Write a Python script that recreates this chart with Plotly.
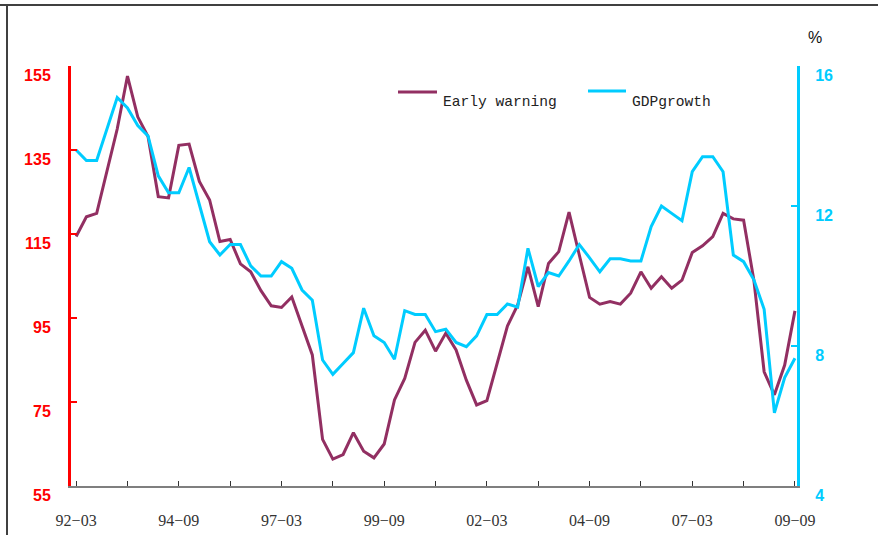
import plotly.graph_objects as go

# Quarterly periods 1992Q1 (92-03) .. 2009Q3 (09-09)
quarters = [f"{y % 100:02d}-{m:02d}" for y in range(1992, 2010) for m in (3, 6, 9, 12)][:71]

early_warning = [114.4, 119.1, 119.9, 130.0, 140.0, 152.6, 142.9, 138.2, 123.9, 123.6,
                 136.1, 136.4, 127.5, 123.1, 113.2, 113.7, 107.9, 106.0, 101.5, 97.9,
                 97.5, 100.0, 93.3, 86.2, 66.1, 61.4, 62.5, 67.7, 63.3, 61.7,
                 65.0, 75.5, 80.6, 89.2, 92.1, 87.1, 91.4, 87.4, 80.2, 74.3,
                 75.3, 84.2, 93.1, 98.1, 107.2, 97.7, 108.0, 110.8, 120.2, 110.0,
                 99.9, 98.3, 98.9, 98.3, 100.9, 106.0, 102.1, 104.8, 102.1, 104.0,
                 110.6, 112.2, 114.4, 119.9, 118.6, 118.3, 104.0, 82.2, 76.7, 83.8,
                 96.7]

gdp_growth = [13.6, 13.3, 13.3, 14.2, 15.1, 14.8, 14.3, 14.0, 12.86, 12.38,
              12.38, 13.1, 12.0, 10.98, 10.6, 10.9, 10.9, 10.29, 10.0, 10.0,
              10.41, 10.22, 9.6, 9.31, 7.6, 7.19, 7.5, 7.81, 9.08, 8.29,
              8.1, 7.62, 9.01, 8.9, 8.9, 8.41, 8.48, 8.1, 7.98, 8.29,
              8.9, 8.9, 9.2, 9.11, 10.79, 9.7, 10.1, 10.0, 10.43, 10.9,
              10.52, 10.12, 10.49, 10.49, 10.43, 10.43, 11.41, 12.0, 11.79, 11.58,
              12.98, 13.41, 13.41, 12.98, 10.6, 10.41, 9.89, 9.05, 6.09, 7.1,
              7.65]

tick_labels = ["92\u221203", "94\u221209", "97\u221203", "99\u221209",
               "02\u221203", "04\u221209", "07\u221203", "09\u221209"]
tick_periods = ["92-03", "94-09", "97-03", "99-09", "02-03", "04-09", "07-03", "09-09"]

left_ticks = [55, 75, 95, 115, 135, 155]
right_ticks = [4, 8, 12, 16]

EW_COLOR = "#922F62"
GDP_COLOR = "#00CCFF"

x_idx = list(range(len(quarters)))
tick_pos = [quarters.index(p) for p in tick_periods]

fig = go.Figure()
fig.add_trace(go.Scatter(x=x_idx, y=early_warning, mode="lines", name="Early warning",
                         line=dict(color=EW_COLOR, width=3), yaxis="y", showlegend=False))
fig.add_trace(go.Scatter(x=x_idx, y=gdp_growth, mode="lines", name="GDPgrowth",
                         line=dict(color=GDP_COLOR, width=3), yaxis="y2", showlegend=False))

W, H = 878, 535
L, R, T, B = 71, 797, 66, 486
pw, ph = R - L, B - T


def px(xp):
    return (xp - L) / pw


def py(yp):
    return (B - yp) / ph


fig.update_layout(
    width=W, height=H,
    margin=dict(l=L, r=W - R, t=T, b=H - B, pad=0, autoexpand=False),
    paper_bgcolor="white", plot_bgcolor="white",
    xaxis=dict(range=[-0.5, 70.2], showgrid=False, zeroline=False, automargin=False,
               showline=True, linecolor="#7f7f7f", linewidth=2,
               tickmode="array", tickvals=tick_pos, ticktext=tick_labels,
               ticks="inside", ticklen=5, tickwidth=1, tickcolor="#333333",
               minor=dict(tickvals=[v + 5 for v in tick_pos[:-1]], ticks="inside",
                          ticklen=5, tickwidth=1, tickcolor="#333333"),
               tickfont=dict(family="Liberation Serif", size=16, color="#333333"),
               ticklabelstandoff=19),
    yaxis=dict(range=[55, 155], tickmode="array", tickvals=left_ticks,
               ticktext=[f"<b>{v}</b>" for v in left_ticks], automargin=False,
               showgrid=False, zeroline=False, showline=True, linecolor="#FF0000", linewidth=3,
               ticks="inside", ticklen=6, tickwidth=2, tickcolor="#FF0000",
               tickfont=dict(family="Liberation Sans", size=16, color="#FF0000"),
               ticklabelshift=9, ticklabelstandoff=14),
    yaxis2=dict(range=[4, 16], tickmode="array", tickvals=right_ticks,
                ticktext=[f"<b>{v}</b>" for v in right_ticks], automargin=False,
                overlaying="y", side="right",
                showgrid=False, zeroline=False, showline=True, linecolor=GDP_COLOR, linewidth=3,
                ticks="inside", ticklen=6, tickwidth=2, tickcolor=GDP_COLOR,
                tickfont=dict(family="Liberation Sans", size=16, color=GDP_COLOR),
                ticklabelshift=9, ticklabelstandoff=12),
)

# frame lines
fig.add_shape(type="line", xref="paper", yref="paper", x0=px(0), x1=px(W), y0=py(5), y1=py(5),
              line=dict(color="#404040", width=2))
fig.add_shape(type="line", xref="paper", yref="paper", x0=px(7), x1=px(7), y0=py(5), y1=py(H),
              line=dict(color="#404040", width=2))

# legend
fig.add_shape(type="line", xref="paper", yref="paper", x0=px(398), x1=px(437), y0=py(92), y1=py(92),
              line=dict(color=EW_COLOR, width=3))
fig.add_annotation(xref="paper", yref="paper", x=px(441), y=py(102), text="Early warning",
                   showarrow=False, xanchor="left", yanchor="middle",
                   font=dict(family="Liberation Mono", size=14.6, color="#222222"))
fig.add_shape(type="line", xref="paper", yref="paper", x0=px(588), x1=px(626), y0=py(91), y1=py(91),
              line=dict(color=GDP_COLOR, width=3))
fig.add_annotation(xref="paper", yref="paper", x=px(630), y=py(102), text="GDPgrowth",
                   showarrow=False, xanchor="left", yanchor="middle",
                   font=dict(family="Liberation Mono", size=14.6, color="#222222"))

# unit label
fig.add_annotation(xref="paper", yref="paper", x=px(815), y=py(37), text="%",
                   showarrow=False, xanchor="center", yanchor="middle",
                   font=dict(family="Liberation Sans", size=16, color="#111111"))

fig.write_html("out.html")
